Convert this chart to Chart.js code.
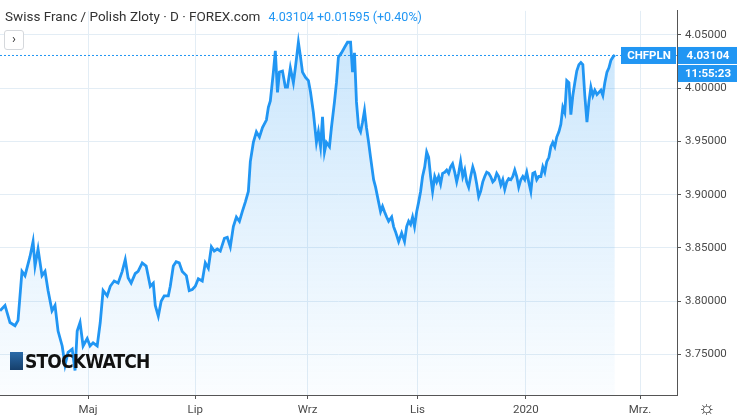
<!DOCTYPE html>
<html>
<head>
<meta charset="utf-8">
<script src="https://cdn.jsdelivr.net/npm/chart.js@4"></script>
<style>
body { margin: 0; background: #fff; font-family: Roboto, "Noto Sans", sans-serif; }
#wrap { position: relative; width: 737px; height: 419px; }
#title { position: absolute; left: 5px; top: 8px; font-size: 13.5px; color: #333; white-space: nowrap; }
#title .q { color: #2196f3; font-size: 12.5px; margin-left: 8px; }
#btn { position: absolute; left: 4px; top: 30px; width: 18px; height: 18px; border: 1px solid #d5d8dc; border-radius: 3px; background: #fff;
  font-size: 13px; line-height: 16px; text-align: center; color: #333; }
#logo { position: absolute; left: 10px; top: 350px; font: bold 19px "DejaVu Sans Condensed", "Liberation Sans Narrow", sans-serif; color: #111; letter-spacing: -0.8px; display: flex; align-items: center; }
#logo i { display: inline-block; width: 13px; height: 18px; background: linear-gradient(#2a6aa8, #163f6b); margin-right: 2px; }
#gear { position: absolute; left: 698px; top: 396px; font-size: 19px; color: #333; }
</style>
</head>
<body>
<div id="wrap">
<canvas id="chart" width="737" height="419"></canvas>
<div id="title">Swiss Franc / Polish Zloty · D · FOREX.com<span class="q">4.03104 +0.01595 (+0.40%)</span></div>
<div id="btn">›</div>
<div id="logo"><i></i>STOCKWATCH</div>
<div id="gear">☼</div>
</div>
<script>
// days since 12 Mar 2019
const days = [0,2.8,5.6,8.4,10.1,12.3,14.0,16.8,18.5,19.6,21.3,23.5,25.2,26.9,29.1,30.8,32.5,34.8,36.4,38.1,40.4,42.0,43.2,44.8,46.5,48.8,50.4,52.1,54.4,56.1,
57.7,60.0,61.7,63.9,66.1,68.4,70.1,71.7,73.4,75.7,77.3,79.6,81.8,84.1,85.8,86.9,88.6,90.2,91.9,94.2,95.3,97.0,98.6,100.3,102.0,104.3,105.9,107.6,109.3,111.0,
113.2,114.9,116.6,118.3,119.9,121.6,123.3,125.6,127.2,128.9,130.6,132.3,134.0,135.6,137.3,139.0,140.1,141.8,143.5,145.2,146.9,149.1,150.2,151.3,153.0,154.1,155.3,156.4,158.1,159.7,
160.9,162.5,164.2,165.3,167.0,168.2,169.3,171.0,172.6,173.8,175.4,177.1,178.2,179.4,180.5,181.6,182.7,184.4,185.5,187.2,188.3,189.4,191.1,192.8,194.5,196.2,197.3,198.4,199.5,200.7,
201.8,202.9,204.0,205.1,206.3,207.4,209.1,210.2,211.9,213.0,214.1,215.2,216.4,217.5,219.2,220.3,221.4,223.1,224.8,226.4,227.6,228.7,229.8,230.9,232.0,233.2,234.3,235.4,236.5,237.7,
238.8,239.9,241.0,242.1,243.3,244.4,245.5,246.6,247.7,248.9,250.0,251.1,252.2,253.3,254.5,255.6,256.7,257.8,259.0,260.1,261.2,262.3,263.4,264.6,265.7,266.8,267.9,269.0,270.2,271.3,
272.4,273.5,274.6,275.8,276.9,278.0,279.1,280.3,281.4,282.5,283.6,284.7,285.9,287.0,288.1,289.2,290.3,291.5,292.6,293.7,294.8,295.9,297.1,298.2,299.3,300.4,301.5,302.7,303.8,304.9,
306.0,307.2,308.3,309.4,310.5,311.6,312.8,313.9,315.0,316.1,317.2,318.4,319.5,320.6,321.7,322.8,324.0,325.1,326.2,327.3,328.5,329.6,330.7,331.8,332.9,334.1,335.2,336.3,337.4,338.5,
339.7,340.8,341.9,343.0,344.1];
const prices = [3.791,3.796,3.780,3.777,3.782,3.828,3.824,3.842,3.856,3.833,3.849,3.824,3.828,3.810,3.791,3.796,3.772,3.758,3.740,3.752,3.755,3.735,3.772,3.780,3.758,3.765,3.758,3.761,3.758,3.780,
3.810,3.805,3.814,3.819,3.817,3.828,3.839,3.822,3.817,3.826,3.828,3.836,3.833,3.814,3.817,3.796,3.786,3.800,3.805,3.805,3.814,3.833,3.837,3.836,3.828,3.824,3.810,3.811,3.814,3.821,
3.819,3.836,3.831,3.851,3.847,3.849,3.847,3.859,3.860,3.851,3.870,3.879,3.875,3.884,3.893,3.903,3.931,3.949,3.959,3.954,3.963,3.970,3.982,3.988,4.015,4.035,3.996,4.015,4.016,4.001,
4.001,4.019,4.005,4.019,4.043,4.029,4.015,4.010,4.007,3.996,3.977,3.949,3.959,3.945,3.973,3.940,3.949,3.945,3.963,3.987,4.005,4.029,4.033,4.038,4.043,4.043,4.015,4.033,3.987,3.963,
3.959,3.968,3.979,3.963,3.949,3.935,3.914,3.907,3.893,3.884,3.889,3.884,3.879,3.875,3.879,3.870,3.865,3.856,3.864,3.856,3.870,3.875,3.872,3.879,3.870,3.884,3.893,3.903,3.917,3.926,
3.940,3.935,3.917,3.903,3.917,3.912,3.917,3.910,3.920,3.921,3.923,3.920,3.926,3.929,3.921,3.912,3.920,3.931,3.917,3.923,3.912,3.907,3.917,3.926,3.920,3.910,3.898,3.903,3.912,3.917,
3.921,3.920,3.917,3.912,3.914,3.920,3.917,3.909,3.914,3.905,3.912,3.915,3.914,3.917,3.923,3.917,3.907,3.914,3.917,3.914,3.921,3.912,3.903,3.920,3.921,3.914,3.917,3.917,3.926,3.921,
3.931,3.935,3.945,3.949,3.945,3.954,3.959,3.966,3.982,3.977,4.007,4.005,3.975,3.993,4.005,4.016,4.022,4.024,4.022,3.993,3.968,3.987,4.001,3.993,3.998,3.994,3.996,3.998,3.993,4.005,
4.015,4.019,4.026,4.029,4.031];
const tickDays = [49.3, 109.3, 172.1, 233.7, 294.3, 358.2];
const tickLabels = ['Maj', 'Lip', 'Wrz', 'Lis', '2020', 'Mrz.'];
const priceTicks = [3.75, 3.80, 3.85, 3.90, 3.95, 4.00, 4.05];
const lastPrice = 4.03104;
const symbol = 'CHFPLN';
const clock = '11:55:23';

const BLUE = '#2196f3';
const points = days.map((d, i) => ({ x: d, y: prices[i] }));

const overlay = {
  id: 'overlay',
  afterDatasetsDraw(chart) {
    const ctx = chart.ctx, y = chart.scales.y, area = chart.chartArea;
    const py = y.getPixelForValue(lastPrice);
    ctx.save();
    ctx.strokeStyle = BLUE; ctx.lineWidth = 1; ctx.setLineDash([2, 2]);
    ctx.beginPath(); ctx.moveTo(area.left, py + 0.5); ctx.lineTo(area.right, py + 0.5); ctx.stroke();
    ctx.setLineDash([]);
    ctx.fillStyle = BLUE;
    ctx.fillRect(area.right - 56, py - 8, 55, 17);
    ctx.fillRect(area.right + 1, py - 8, 60, 17);
    ctx.fillRect(area.right + 1, py + 10, 60, 17);
    ctx.fillStyle = '#fff'; ctx.font = 'bold 11.5px Roboto'; ctx.textBaseline = 'middle'; ctx.textAlign = 'center';
    ctx.fillText(symbol, area.right - 28, py + 1);
    ctx.fillText(lastPrice.toFixed(5), area.right + 31, py + 1);
    ctx.fillText(clock, area.right + 31, py + 19);
    ctx.restore();
  }
};

new Chart(document.getElementById('chart'), {
  type: 'line',
  data: { datasets: [{
    data: points,
    borderColor: BLUE, borderWidth: 2.8, pointRadius: 0, tension: 0,
    fill: 'start',
    backgroundColor(c) {
      const a = c.chart.chartArea;
      if (!a) return 'rgba(33,150,243,0.15)';
      const g = c.chart.ctx.createLinearGradient(0, a.top, 0, a.bottom);
      g.addColorStop(0, 'rgba(33,150,243,0.25)');
      g.addColorStop(1, 'rgba(33,150,243,0.02)');
      return g;
    }
  }] },
  options: {
    responsive: false, animation: false,
    layout: { padding: 0 },
    plugins: { legend: { display: false }, tooltip: { enabled: false } },
    scales: {
      x: {
        type: 'linear', min: 0, max: 378.9,
        afterBuildTicks(s) { s.ticks = tickDays.map(v => ({ value: v })); },
        afterFit(s) { s.height = 24; },
        ticks: { callback: (v, i) => tickLabels[i], color: '#4a4a4a', font: { family: 'Roboto', size: 11.5 }, padding: 4, maxRotation: 0, autoSkip: false },
        grid: { color: '#e3edf5', drawTicks: true, tickLength: 4, tickColor: '#555' },
        border: { color: '#555' }
      },
      y: {
        position: 'right', min: 3.712, max: 4.0724,
        afterBuildTicks(s) { s.ticks = priceTicks.map(v => ({ value: v })); },
        afterFit(s) { s.width = 60; },
        ticks: { callback: v => v.toFixed(5), color: '#4a4a4a', font: { family: 'Roboto', size: 11.5 }, padding: 4 },
        grid: { color: '#e3edf5', drawTicks: true, tickLength: 4, tickColor: '#555' },
        border: { color: '#555' }
      }
    }
  },
  plugins: [overlay]
});
</script>
</body>
</html>
